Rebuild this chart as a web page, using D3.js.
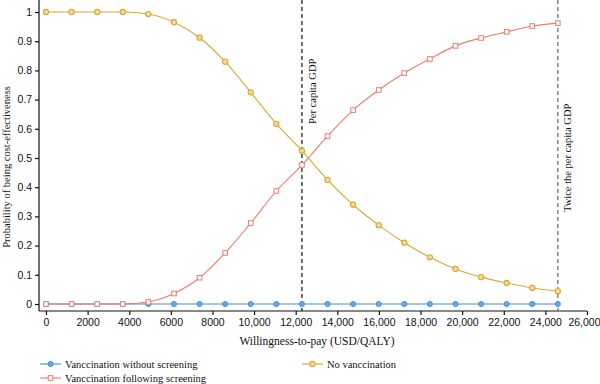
<!DOCTYPE html>
<html>
<head>
<meta charset="utf-8">
<script src="https://cdn.jsdelivr.net/npm/d3@7"></script>
<style>
  body { margin: 0; background: #fff; }
  svg { font-family: "Liberation Serif", "DejaVu Serif", serif; }
  .tick text { font-size: 10.5px; fill: #111; }
</style>
</head>
<body>
<svg id="chart" width="600" height="384"></svg>
<script>
// willingness-to-pay steps (USD/QALY)
var wtp = [0, 1230, 2460, 3690, 4920, 6150, 7380, 8610, 9840, 11070, 12300,
           13530, 14760, 15990, 17220, 18450, 19680, 20910, 22140, 23370, 24600];

var withoutScreening = [0, 0, 0, 0, 0, 0, 0, 0, 0, 0, 0, 0, 0, 0, 0, 0, 0, 0, 0, 0, 0];
var followingScreening = [0, 0, 0, 0, 0.007, 0.036, 0.09, 0.175, 0.277, 0.387, 0.476,
                          0.575, 0.664, 0.733, 0.791, 0.839, 0.884, 0.911, 0.932, 0.952, 0.962];
var noVaccination = [1, 1, 1, 1, 0.993, 0.965, 0.912, 0.83, 0.725, 0.617, 0.525,
                     0.425, 0.34, 0.27, 0.21, 0.16, 0.12, 0.092, 0.072, 0.055, 0.044];

var xTicks = d3.range(0, 26001, 2000);
var yTicks = d3.range(0, 1.01, 0.1);
var refLines = [ { value: 12300, label: 'Per capita GDP', colour: '#111' },
                 { value: 24600, label: 'Twice the per capita GDP', colour: '#666' } ];

var series = [
  { name: 'Vanccination without screening', values: withoutScreening, colour: '#3d8de0', marker: 'circle' },
  { name: 'Vanccination following screening', values: followingScreening, colour: '#ee7b6b', marker: 'square' },
  { name: 'No vanccination', values: noVaccination, colour: '#d8a832', marker: 'ring' }
];

var svg = d3.select('#chart');

var x = d3.scaleLinear().domain([0, 26000]).range([46, 587]);
var y = d3.scaleLinear().domain([0, 1]).range([304, 12]);

//-------------------------------------------------------------------------------
// axes: offset from the plotting area, like the original
var gx = svg.append('g').attr('transform', 'translate(0,311)')
  .call(d3.axisBottom(x).tickValues(xTicks).tickSize(4).tickPadding(4)
    .tickFormat(d => d < 10000 ? String(d) : d3.format(',')(d)));
gx.select('.domain').remove();
gx.append('line').attr('x1', 39).attr('x2', x(26000)).attr('stroke', '#111').attr('stroke-width', 1.2);
gx.selectAll('.tick line').attr('stroke', '#111').attr('stroke-width', 1.2);
gx.selectAll('.tick text').filter(d => d === 26000).attr('dx', -3);

var gy = svg.append('g').attr('transform', 'translate(39,0)')
  .call(d3.axisLeft(y).tickValues(yTicks).tickSize(4).tickPadding(3)
    .tickFormat(d => d3.format('')(+d.toFixed(1))));
gy.select('.domain').remove();
gy.append('line').attr('y1', 0).attr('y2', 311).attr('stroke', '#111').attr('stroke-width', 1.2);
gy.selectAll('.tick line').attr('stroke', '#111').attr('stroke-width', 1.2);

svg.append('text')
  .attr('x', 317).attr('y', 345)
  .attr('text-anchor', 'middle').attr('font-size', 11.5).attr('fill', '#111')
  .text('Willingness-to-pay (USD/QALY)');

svg.append('text')
  .attr('transform', 'translate(10,167) rotate(-90)')
  .attr('text-anchor', 'middle').attr('font-size', 10.5).attr('fill', '#111')
  .text('Probability of being cost-effectiveness');

//-------------------------------------------------------------------------------
// reference lines
refLines.forEach(function (r) {
  svg.append('line')
    .attr('x1', x(r.value)).attr('x2', x(r.value))
    .attr('y1', 0).attr('y2', 311)
    .attr('stroke', r.colour).attr('stroke-width', 1.2)
    .attr('stroke-dasharray', '4,3');
});

//-------------------------------------------------------------------------------
function drawMarker(g, kind, colour) {
  if (kind === 'square')
    g.append('rect').attr('x', -2.3).attr('y', -2.3).attr('width', 4.6).attr('height', 4.6)
      .attr('fill', '#fff').attr('stroke', colour).attr('stroke-width', 1);
  else if (kind === 'circle')
    g.append('circle').attr('r', 2.5).attr('fill', '#69a9ea').attr('stroke', colour).attr('stroke-width', 1);
  else
    g.append('circle').attr('r', 2.6).attr('fill', '#f3dc9c').attr('stroke', colour).attr('stroke-width', 1.1);
}

var line = d3.line().curve(d3.curveMonotoneX);

series.forEach(function (s) {
  var pts = wtp.map((w, i) => [x(w), y(s.values[i])]);
  svg.append('path').attr('d', line(pts))
    .attr('fill', 'none').attr('stroke', s.colour).attr('stroke-width', 1.1);
  pts.forEach(function (p) {
    drawMarker(svg.append('g').attr('transform', 'translate(' + p[0] + ',' + p[1] + ')'), s.marker, s.colour);
  });
});

// labels on the reference lines (drawn over the curves)
svg.append('text')
  .attr('transform', 'translate(316,124) rotate(-90)')
  .attr('font-size', 10.5).attr('fill', '#111')
  .text(refLines[0].label);
svg.append('text')
  .attr('transform', 'translate(571,212) rotate(-90)')
  .attr('font-size', 10.5).attr('fill', '#111')
  .text(refLines[1].label);

//-------------------------------------------------------------------------------
// legend
var legendPos = [ { x: 40, y: 364 }, { x: 40, y: 378 }, { x: 302, y: 364 } ];
series.forEach(function (s, i) {
  var p = legendPos[i];
  var g = svg.append('g').attr('transform', 'translate(' + p.x + ',' + p.y + ')');
  g.append('line').attr('x1', 0).attr('x2', 21).attr('stroke', s.colour).attr('stroke-width', 1.1);
  drawMarker(g.append('g').attr('transform', 'translate(10.5,0)'), s.marker, s.colour);
  g.append('text').attr('x', 25).attr('y', 3.5).attr('font-size', 10.5).attr('fill', '#111').text(s.name);
});
</script>
</body>
</html>
